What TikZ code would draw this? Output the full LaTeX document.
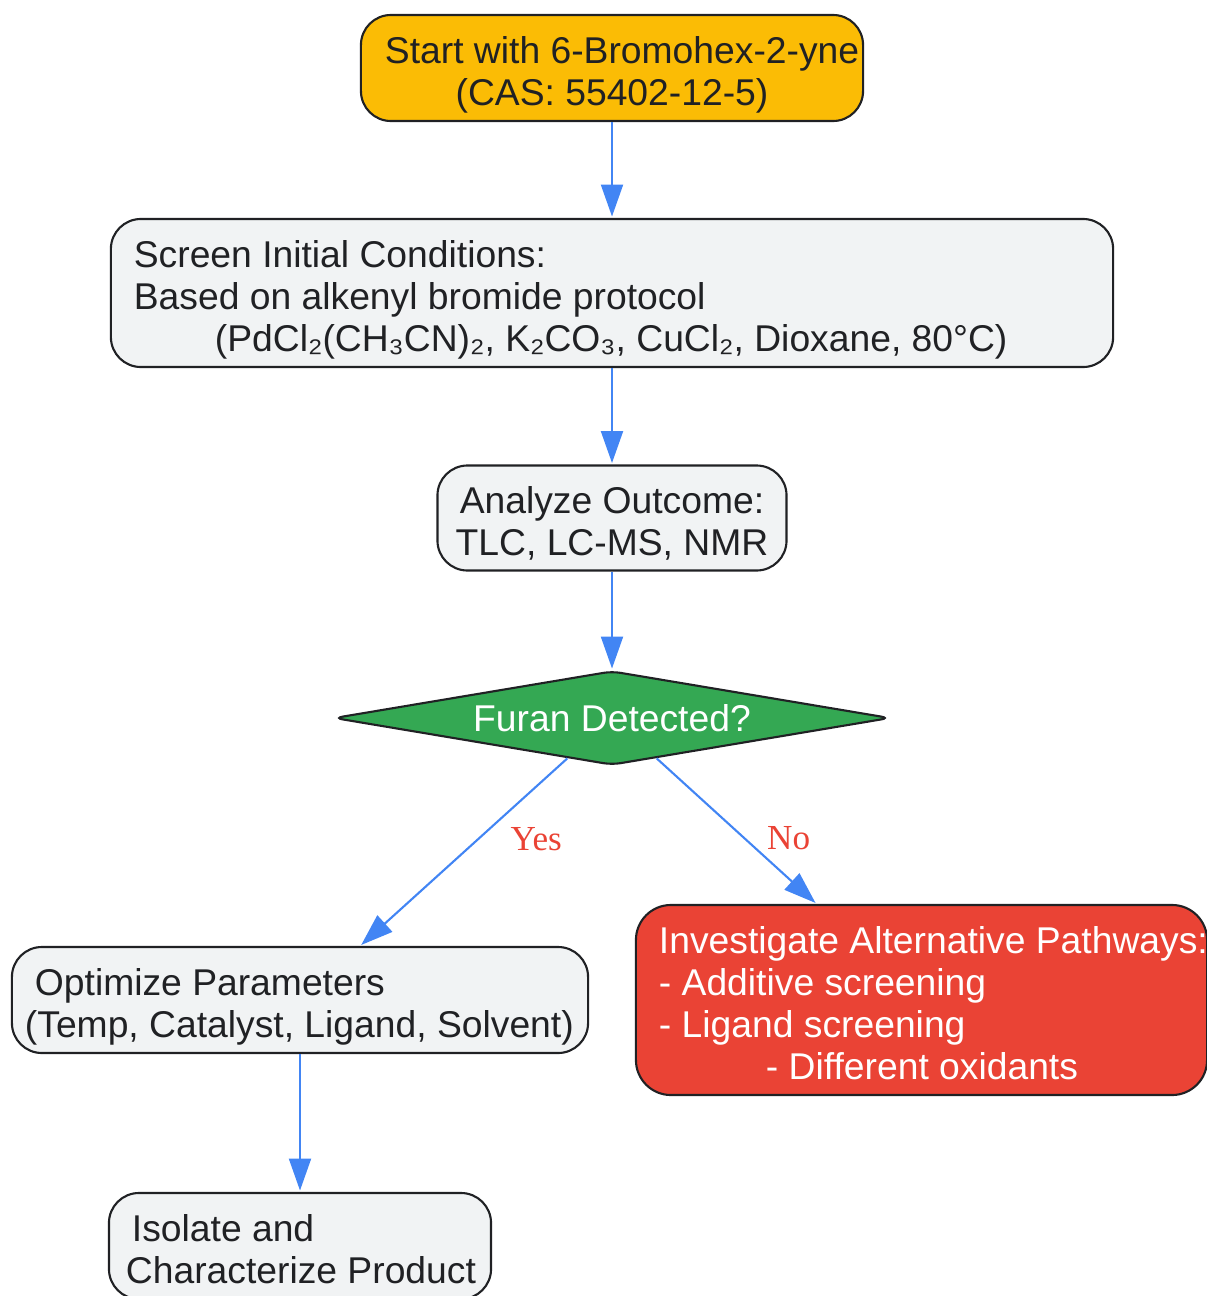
\documentclass[tikz,border=0pt]{standalone}
\usepackage{fontspec}
\setmainfont{Liberation Sans}
\newfontfamily\labelfont{Liberation Serif}
\usetikzlibrary{arrows.meta, shapes.geometric, positioning, calc}
\definecolor{startfill}{HTML}{FBBC05}
\definecolor{boxfill}{HTML}{F1F3F4}
\definecolor{yesfill}{HTML}{34A853}
\definecolor{nofill}{HTML}{EA4335}
\definecolor{edgeblue}{HTML}{4285F4}
\definecolor{inkgray}{HTML}{202124}

\begin{document}
\begin{tikzpicture}[x=0.025cm, y=-0.025cm,
    box/.style={draw=inkgray, line width=1.5pt, rounded corners=0.75cm, fill=boxfill, text=inkgray,
      font=\fontsize{26.5}{29.9}\selectfont, inner xsep=0.575cm, inner ysep=0pt, align=flush left, text height=1.025cm},
    flow/.style={draw=edgeblue, line width=1.5pt, -{Triangle[length=0.8cm, width=0.55cm]}, shorten >=1pt},
    lbl/.style={text=nofill, font=\labelfont\fontsize{25}{27}\selectfont}]
  \useasboundingbox (0,0) rectangle (1207,1296);

  % Start box
  \node[box, fill=startfill, align=flush center, inner xsep=0.2cm, text width=12.15cm, minimum height=2.65cm,
    text depth=1.25cm] (start) at (612,68)
    {\mbox{\hspace*{0.4cm}Start with 6-Bromohex-2-yne}\\(CAS: 55402-12-5)};

  % Screening conditions
  \node[box, text width=23.9cm, minimum height=3.7cm, text depth=2.3cm] (screen) at (612,293)
    {Screen Initial Conditions:\\Based on alkenyl bromide protocol\\\hspace*{2.025cm}(PdCl₂(CH₃CN)₂, K₂CO₃, CuCl₂, Dioxane, 80°C)};

  % Analysis
  \node[box, align=flush center, inner xsep=0.2cm, text width=8.325cm, minimum height=2.625cm, text depth=1.25cm] (analyze) at (612,518)
    {Analyze Outcome:\\TLC, LC-MS, NMR};

  % Decision
  \node[diamond, aspect=6, draw=inkgray, line width=1.5pt, fill=yesfill, text=white, font=\fontsize{26.5}{29.9}\selectfont,
    inner sep=0pt, minimum width=13.9cm, minimum height=2.35cm, rounded corners=6pt] (furan) at (612,718) {Furan Detected?};

  % Yes branch
  \node[box, text width=13.25cm, minimum height=2.65cm, text depth=1.25cm] (optimize) at (300,1000)
    {Optimize Parameters\\\hspace*{-0.25cm}\mbox{(Temp, Catalyst, Ligand, Solvent)}};
  \node[box, text width=8.4cm, minimum height=2.65cm, text depth=1.25cm] (isolate) at (300,1246)
    {Isolate and\\\hspace*{-0.15cm}\mbox{Characterize Product}};

  % No branch
  \node[box, fill=nofill, text=white, rounded corners=0.875cm, text width=13.125cm, minimum height=4.75cm,
    text depth=3.35cm] (pathways) at (921.5,1000)
    {\mbox{Investigate Alternative Pathways:}\\- Additive screening\\- Ligand screening\\\hspace*{2.675cm}- Different oxidants};

  % Arrows
  \draw[flow] (start) -- (screen);
  \draw[flow] (screen) -- (analyze);
  \draw[flow] (analyze) -- (furan);
  \draw[flow] ($(furan.south)!0.16!(furan.west)$) -- node[lbl, pos=0.43, xshift=1.45cm] (yeslbl) {Yes}
    ($(optimize.north west)!0.604!(optimize.north east)$);
  \draw[flow] ($(furan.south)!0.16!(furan.east)$) -- node[lbl, pos=0.55, xshift=1.1cm] (nolbl) {No}
    ($(pathways.north west)!0.317!(pathways.north east)$);
  \draw[flow] (optimize) -- (isolate);
\end{tikzpicture}
\end{document}
